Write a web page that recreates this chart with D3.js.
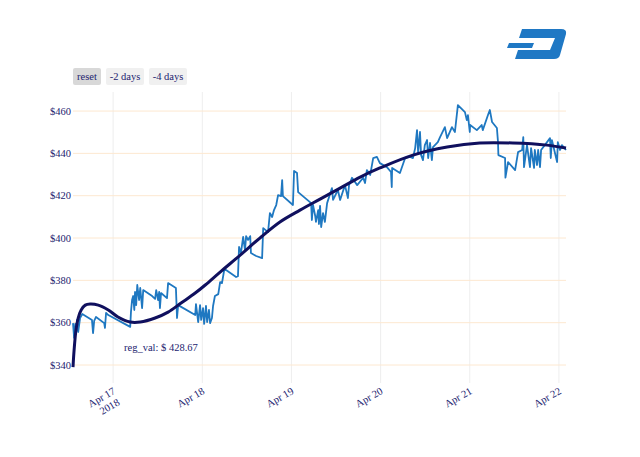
<!DOCTYPE html>
<html>
<head>
<meta charset="utf-8">
<script src="https://cdn.jsdelivr.net/npm/d3@7"></script>
<style>
  body { margin: 0; background: #fff; }
  svg, svg text { font-family: "Liberation Serif", "Times New Roman", serif; }
</style>
</head>
<body>
<div id="chart"></div>
<script>
// hours since 2018-04-16 00:00 UTC, and price in USD
const priceHours = [13.2,13.5,13.8,14.0,14.3,14.6,15.1,15.7,18.3,18.6,18.9,19.4,21.6,21.8,22.1,22.7,
  28.6,28.8,29.1,29.4,29.7,29.9,30.2,30.5,31.0,31.3,31.8,32.1,34.5,35.3,35.6,36.1,36.4,36.6,36.9,38.5,38.8,
  40.9,41.2,41.5,46.1,46.3,46.9,47.4,47.7,48.2,48.5,49.0,49.3,49.8,50.1,50.6,50.9,51.4,52.3,52.8,53.3,53.9,54.4,
  57.1,57.6,57.9,58.4,59.0,59.5,59.8,60.3,60.9,61.1,62.5,64.1,64.4,65.7,66.2,66.8,67.3,67.9,68.4,69.2,69.5,69.7,
  72.4,72.7,73.5,73.8,77.3,77.5,77.8,78.4,78.6,79.2,79.4,79.7,80.0,80.5,81.0,81.6,82.9,83.2,84.5,85.1,86.4,87.2,
  87.5,88.3,89.7,91.3,91.8,92.3,93.2,94.0,95.0,95.8,97.7,98.8,99.0,99.1,101.2,102.6,103.9,104.7,105.3,105.8,106.1,
  106.6,106.9,107.4,107.9,108.5,108.8,109.3,109.8,110.1,111.4,112.0,113.3,113.9,115.2,116.0,116.8,118.7,119.2,
  119.5,120.0,120.1,121.9,123.2,123.5,124.9,125.4,126.0,127.3,127.6,127.7,129.5,129.6,130.3,132.2,133.0,134.1,
  134.4,134.6,135.4,136.2,136.5,137.3,137.5,138.1,138.4,138.9,139.2,141.6,141.8,142.1,143.5,143.7,144.3,144.8,145.9];
const priceValues = [359.8,352.8,359.4,354.6,361.3,355.6,362.2,364.1,361.3,355.1,360.8,362.7,359.8,357.5,364.6,363.6,
  358.0,365.0,370.7,372.6,366.0,374.5,368.3,377.8,370.7,376.4,366.9,375.4,372.6,371.2,375.4,370.7,374.5,366.9,374.0,371.6,378.7,
  376.4,362.2,368.3,363.6,368.8,360.3,368.3,361.3,366.9,359.4,367.9,360.3,366.0,359.8,362.2,367.9,372.6,373.5,379.2,378.7,384.9,384.9,
  381.6,382.0,395.8,392.9,400.5,394.3,400.9,399.1,400.9,392.9,391.5,390.5,404.7,402.8,411.8,409.9,413.2,415.6,420.3,419.8,427.4,419.8,
  415.6,431.7,430.7,421.7,416.5,408.5,415.6,410.4,407.6,413.2,406.6,415.2,405.2,411.8,407.6,416.5,423.6,418.0,422.7,418.0,425.0,418.9,
  425.0,428.5,425.0,428.5,426.0,432.1,429.8,437.8,438.3,435.4,433.5,431.2,424.1,433.1,430.7,437.8,438.3,437.8,442.5,451.0,440.2,
  450.1,439.2,436.8,443.9,446.3,437.8,444.9,436.8,443.0,445.3,447.7,452.4,447.2,452.4,450.1,462.8,459.5,455.7,
  458.1,450.1,453.4,451.0,453.4,451.0,458.1,460.5,454.8,452.0,445.3,439.2,437.8,428.5,435.9,432.1,440.6,441.6,
  447.7,433.5,443.9,433.5,442.5,433.1,441.6,434.5,441.6,433.5,441.6,447.2,437.8,446.3,435.9,445.3,441.6,443.9,441.6];

// regression curve
const regHours = [13.2,13.5,14.0,14.6,15.4,16.5,17.8,20.0,22.7,25.3,28.6,31.3,35.3,38.8,42.3,46.1,48.8,52.8,58.2,63.5,
  68.9,74.3,79.7,85.1,90.5,95.8,104.7,113.9,122.7,131.6,140.8,145.9];
const regValues = [339.0,347.1,356.5,362.2,366.0,368.3,368.8,368.3,366.0,362.7,360.3,360.3,362.2,365.0,369.3,374.0,377.8,383.9,391.9,400.0,
  407.6,413.2,418.4,423.6,428.8,433.1,439.2,443.0,444.9,444.9,443.9,442.5];

const yTicks = [340, 360, 380, 400, 420, 440, 460];
const buttonLabels = ["reset", "-2 days", "-4 days"];
const annotationText = "reg_val: $ 428.67";

const W = 640, H = 457;
const plot = {left: 73, right: 566, top: 92, bottom: 383};
const t0 = Date.UTC(2018, 3, 16);
const toDate = h => new Date(t0 + h * 3600e3);
const serif = "'Liberation Serif', 'Times New Roman', serif";
const fs = 10.5;

const svg = d3.select("#chart").append("svg")
  .attr("width", W).attr("height", H)
  .attr("font-family", serif);

const x = d3.scaleUtc()
  .domain([toDate(priceHours[0]), toDate(priceHours[priceHours.length - 1])])
  .range([plot.left, plot.right]);
const y = d3.scaleLinear()
  .domain([331.5, 469])
  .range([plot.bottom, plot.top]);

const textColor = "#23236f";

// vertical gridlines
const xTicks = d3.utcDay.range(toDate(24), toDate(146));
svg.append("g").selectAll("line").data(xTicks).join("line")
  .attr("x1", d => x(d)).attr("x2", d => x(d))
  .attr("y1", plot.top).attr("y2", plot.bottom)
  .attr("stroke", "#eeeeee").attr("stroke-width", 1);

// horizontal gridlines
svg.append("g").selectAll("line").data(yTicks).join("line")
  .attr("x1", plot.left).attr("x2", plot.right)
  .attr("y1", d => y(d)).attr("y2", d => y(d))
  .attr("stroke", "#fde8d0").attr("stroke-width", 1);

// y axis labels
svg.append("g").selectAll("text").data(yTicks).join("text")
  .attr("x", plot.left - 2).attr("y", d => y(d)).attr("dy", "0.35em")
  .attr("text-anchor", "end").attr("font-size", fs).attr("fill", textColor)
  .attr("font-family", serif)
  .text(d => "$" + d);

// x axis labels (rotated)
const fmt = d3.utcFormat("%b %d");
const xl = svg.append("g").selectAll("text").data(xTicks).join("text")
  .attr("transform", d => `translate(${x(d) + 3},${393}) rotate(-30)`)
  .attr("text-anchor", "end").attr("font-size", fs).attr("fill", textColor)
  .attr("font-family", serif);
xl.append("tspan").attr("x", 0).attr("y", 0).text(d => fmt(d));
xl.filter((d, i) => i === 0).append("tspan").attr("x", -2).attr("dy", "1.15em").text(d => d.getUTCFullYear());

// price line
const priceData = priceHours.map((h, i) => [toDate(h), priceValues[i]]);
svg.append("path").datum(priceData)
  .attr("fill", "none").attr("stroke", "#1f78c1").attr("stroke-width", 1.8)
  .attr("stroke-linejoin", "round")
  .attr("d", d3.line().x(d => x(d[0])).y(d => y(d[1])));

// regression line
const regData = regHours.map((h, i) => [toDate(h), regValues[i]]);
svg.append("path").datum(regData)
  .attr("fill", "none").attr("stroke", "#10105e").attr("stroke-width", 3)
  .attr("d", d3.line().curve(d3.curveCatmullRom.alpha(0.5)).x(d => x(d[0])).y(d => y(d[1])));

// annotation
svg.append("text")
  .attr("x", 124).attr("y", 351)
  .attr("font-size", fs).attr("fill", textColor).attr("font-family", serif)
  .text(annotationText);

// buttons
const btnX = [73, 106, 149], btnW = [28, 38, 38];
const btn = svg.append("g").selectAll("g").data(buttonLabels).join("g")
  .attr("transform", (d, i) => `translate(${btnX[i]},68)`);
btn.append("rect")
  .attr("width", (d, i) => btnW[i]).attr("height", 17).attr("rx", 2)
  .attr("fill", (d, i) => i === 0 ? "#d8d8d8" : "#f0f0f0");
btn.append("text")
  .attr("x", (d, i) => btnW[i] / 2).attr("y", 12)
  .attr("text-anchor", "middle").attr("font-size", fs).attr("fill", textColor)
  .attr("font-family", serif)
  .text(d => d);

// dash logo
const logo = svg.append("g").attr("fill", "#1f78c4");
logo.append("path")
  .attr("d", "M522,29 L561,29 Q567,29 566,34 L560,55 Q559,59 554,59 L515,59 L518,50 L550,50 L555,38 L519,38 Z");
logo.append("path")
  .attr("d", "M509,43 L534,43 L532,48 L507,48 Z");
</script>
</body>
</html>
